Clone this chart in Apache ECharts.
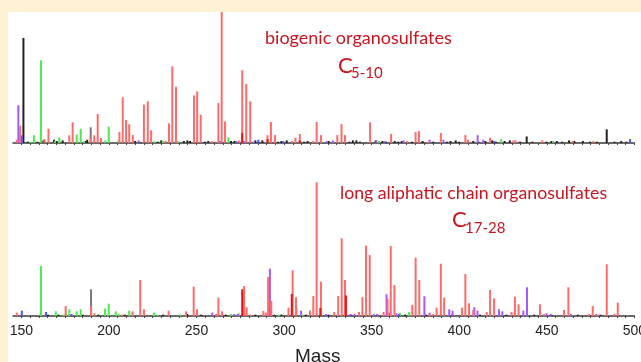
<!DOCTYPE html>
<html>
<head>
<meta charset="utf-8">
<script src="https://cdn.jsdelivr.net/npm/echarts@6/dist/echarts.min.js"></script>
<style>
  html, body { margin: 0; padding: 0; background: #fff2d4; }
  #main { width: 641px; height: 362px; }
</style>
</head>
<body>
<div id="main"></div>
<script>
// tick labels on the mass axis
const massTicks = [150, 200, 250, 300, 350, 400, 450, 500];
const minorTicks = [];
for (let m = 150; m <= 500; m += 5) minorTicks.push(m);

// top spectrum: biogenic organosulfates  [mass, relative intensity %]
const topRed = [[147.4,2.5],[149.3,13.2],[163.2,3],[165.5,10.9],[177.4,5.9],[179.3,15.8],[189.6,3.8],[191.6,5.9],[193.6,22.1],[195.5,3.8],[206,8.4],[207.9,34.9],[209.8,17.6],[211.6,14.3],[213.7,6.1],[220,29.3],[222.2,31.8],[224.1,9.7],[232.3,1.5],[234.3,15],[236.2,58.5],[238.3,43],[248.6,36.4],[250.4,39.4],[252.4,21.6],[258.7,1.5],[262.5,30.5],[264.4,100],[266.3,16.3],[274.1,2],[276.1,55.5],[278.4,45],[280.7,31.8],[290.5,6],[292.5,16],[294.8,6],[304.5,1.5],[306.5,4],[309,6.9],[316.4,1.5],[318.6,16],[321.1,6],[330.4,6],[332.8,14.5],[334.8,6],[349.1,15.8],[361.1,7],[370.2,1.5],[375.1,8.4],[377,9],[382.1,1],[389.5,7.6],[403.5,6],[405,2.5],[417.6,4],[430.9,2],[432.1,2],[447.4,2],[464.7,1.5],[476.6,1.5]];
const topDarkRed = [[276.1,7.6],[290.6,3],[309,2]];
const topGreen = [[155.2,1],[157.2,5.9],[161.2,63.1],[169.2,1.5],[171.7,4.3],[181.6,6.4],[183.9,10.9],[185.8,1.5],[198,2],[199.9,12.5],[205.5,2],[225.9,1.5],[230.8,1.5],[239.3,1.5],[268.2,4.3],[354.2,1.5],[423.9,3],[453.7,1.5]];
const topGray = [[189.6,12]];
const topBlack = [[151.2,80.2],[153.7,1],[159.2,1],[162.6,2],[168.7,2.5],[170.2,1.5],[173.6,2],[186.6,1.5],[187.6,2.5],[215,1.5],[217.4,1],[227.9,1],[229.9,2],[242.8,1.5],[244.8,2],[246.3,1.5],[254.7,1],[256.7,1.5],[269.7,1.5],[271.6,1.5],[283.6,2],[285.6,1],[287.6,2],[296.5,1],[298.5,1.5],[301.5,2],[311.4,1],[313.4,1.5],[325.4,1.5],[337.3,1],[339.3,2],[341.3,2],[343.3,1],[352.3,2],[356.2,1.5],[358.2,1],[363.2,1.5],[365.2,1],[367.2,1.5],[373.1,1],[379.1,1.5],[385.1,1],[393,1],[395,1.5],[398,2],[400,1],[408,1.5],[410.9,1],[414.9,1.5],[418.9,2],[420.9,1],[425.9,1.5],[428.9,2],[434.8,1],[438.5,5],[441.8,1],[449.8,1],[452.7,1.5],[455.7,1.5],[458.7,1],[462.7,2],[465.7,1.5],[470.6,1.5],[474.6,1],[478.6,1],[484.2,10.4],[488.6,1],[492.5,1.5],[495.5,1]];
const topPurple = [[148.3,28.8],[216.9,2],[263.4,1.5],[277.1,1.5],[282.6,1],[324.4,1.5],[327.8,2],[352.7,2],[357.2,1.5],[368.2,2],[383.1,2.5],[391,2.5],[410.5,6],[413.7,2.5]];
const topBlue = [[150.3,5.9],[272.6,1.5],[285.3,2.5],[299.5,1.5],[361.2,1],[419.9,1.5],[497.5,3]];

// bottom spectrum: long aliphatic chain organosulfates
const botRed = [[147.4,2.5],[175.3,7.5],[189.8,7.5],[191.7,2],[207.5,1],[213.5,3.5],[217.9,26.9],[220,5],[234.1,4],[244,3.5],[248.4,21.9],[250.3,5],[261.2,1.5],[262.5,13.7],[264.6,3.5],[277.2,22.4],[278.6,6.5],[280.6,1],[288.2,3.7],[289.6,2.5],[290.9,29.1],[292.7,11.2],[302.5,6.2],[304.9,34.1],[306.8,14],[314.8,4],[316.7,14.9],[318.6,99.8],[321.1,25.6],[328.6,3],[330.9,15],[332.9,58],[334.8,26.9],[342.8,3],[344.7,14],[346.8,52.5],[348.9,45.5],[356.8,3],[359.1,12.9],[360.9,52.2],[363,23.1],[373.2,8.2],[375.1,43.5],[377.2,26.9],[383.1,1.5],[385.1,1.5],[387.1,6.2],[389.5,39],[391.4,13.7],[401.6,6.2],[403.5,31.3],[405.6,9.5],[408,4.5],[415.7,3],[417.6,19.4],[419.9,13.2],[429.9,3],[431.8,14.4],[433.9,8.7],[446.1,8.7],[448.3,1.5],[459.8,4.5],[462.3,21.4],[474.1,1.5],[476.2,7.5],[478.1,1.5],[484.2,38.6],[488.6,1.5],[490.5,9.9]];
const botDarkRed = [[276.1,19.9],[304.4,16.4],[320.7,6],[335.3,15.4]];
const botGreen = [[161.2,37.3],[169.7,3.5],[173.6,1],[175.5,3.5],[177.4,5],[181.6,3.5],[183.9,5],[190,1.5],[197.8,5.5],[199.9,9.2],[203.9,3.5],[205.5,1.5],[211.6,4],[225.8,2.5],[227.9,1],[240.8,1],[269.7,1.5],[274.1,2],[281.1,1],[297,1],[310.4,1],[366.2,2],[371.4,3]];
const botGray = [[189.8,19.9]];
const botBlack = [[165.2,1],[171.2,1],[185.1,1],[194,1],[209,1],[230.8,1],[244.8,1.5],[252.7,1],[266.7,1],[283.6,1],[294.5,1],[298.5,1],[312.4,1],[325.4,1],[338.3,1],[353.2,1],[369.1,1],[381.1,1],[396,1],[411.9,1],[426.9,1],[442.8,1],[452.7,1],[467.7,1],[480.6,1]];
const botPurple = [[259,2.5],[271.6,1.5],[273.6,1.5],[291.9,35.3],[307,6],[309.7,4],[324,1.5],[337.8,1.5],[340.3,1.5],[351.2,1.5],[353.2,1.5],[358.5,16.2],[360.2,2.5],[364.2,2],[380.1,14.7],[383.1,2.5],[394.3,5],[396.2,4],[408.6,6.5],[410.4,4],[422.7,5],[424.6,3.5],[436.6,4],[438.7,21.4],[449.8,2],[452.2,1.5],[463.7,1.5],[479.6,1],[488.3,1]];
const botBlue = [[150.3,4],[164.1,3],[178.6,1.5],[365.7,1.5]];

const container = document.getElementById("main");
const myChart = echarts.init(container);

const RED = '#ff6b6b', DARKRED = '#f01010', GREEN = '#4de84d', GRAY = '#777777',
      BLACK = '#222222', PURPLE = '#a259ff', BLUE = '#5555ff';
const TXT = '#c8151f';

function bars(data, color, idx) {
  return {
    type: 'bar',
    xAxisIndex: idx,
    yAxisIndex: idx,
    data: data,
    barWidth: 2,
    barGap: '-100%',
    itemStyle: { color: color },
    silent: true
  };
}

function massAxis(idx, showLabels) {
  return {
    type: 'value',
    gridIndex: idx,
    min: 145.25,
    max: 500,
    axisLine: { show: true, onZero: false, lineStyle: { color: '#3a3a3a', width: 1.5 } },
    axisTick: { show: true, customValues: minorTicks, length: 2, lineStyle: { color: '#444', width: 1 } },
    axisLabel: {
      show: showLabels,
      customValues: massTicks,
      color: '#222',
      fontSize: 14,
      fontFamily: 'Liberation Sans',
      margin: 8
    },
    splitLine: { show: false },
    name: showLabels ? 'Mass' : '',
    nameLocation: 'middle',
    nameGap: 31,
    nameTextStyle: { color: '#222', fontSize: 19, fontFamily: 'Liberation Sans', padding: [0, 12, 0, 0] }
  };
}

function hiddenY(idx) {
  return { type: 'value', gridIndex: idx, min: 0, max: 100, show: false };
}

function label(text, x, y, size) {
  return {
    type: 'text',
    z: 100,
    style: { text: text, x: x, y: y, fill: TXT, font: size + 'px Lato', verticalAlign: 'middle', align: 'left' }
  };
}

myChart.setOption({
  animation: false,
  backgroundColor: '#fff2d4',
  grid: [
    { left: 13, right: 6.6, top: 12, height: 131, outerBoundsMode: 'none' },
    { left: 13, right: 6.6, top: 182, height: 134, outerBoundsMode: 'none' }
  ],
  xAxis: [massAxis(0, false), massAxis(1, true)],
  yAxis: [hiddenY(0), hiddenY(1)],
  graphic: [
    { type: 'rect', z: -10, silent: true, shape: { x: 8, y: 12, width: 633, height: 350 }, style: { fill: '#ffffff' } },
    label('biogenic organosulfates', 265, 38, 18),
    label('C', 338, 66, 22),
    label('5-10', 351, 73, 15),
    label('long aliphatic chain organosulfates', 340, 193, 17.7),
    label('C', 452, 220, 22),
    label('17-28', 465, 228, 15)
  ],
  series: [
    bars(topBlack, BLACK, 0), bars(topGray, GRAY, 0), bars(topGreen, GREEN, 0),
    bars(topBlue, BLUE, 0), bars(topPurple, PURPLE, 0), bars(topRed, RED, 0), bars(topDarkRed, DARKRED, 0),
    bars(botBlack, BLACK, 1), bars(botGray, GRAY, 1), bars(botGreen, GREEN, 1),
    bars(botBlue, BLUE, 1), bars(botPurple, PURPLE, 1), bars(botRed, RED, 1), bars(botDarkRed, DARKRED, 1)
  ]
});

let resizeObserver = new ResizeObserver(() => myChart?.resize());
resizeObserver.observe(container);
</script>
</body>
</html>
